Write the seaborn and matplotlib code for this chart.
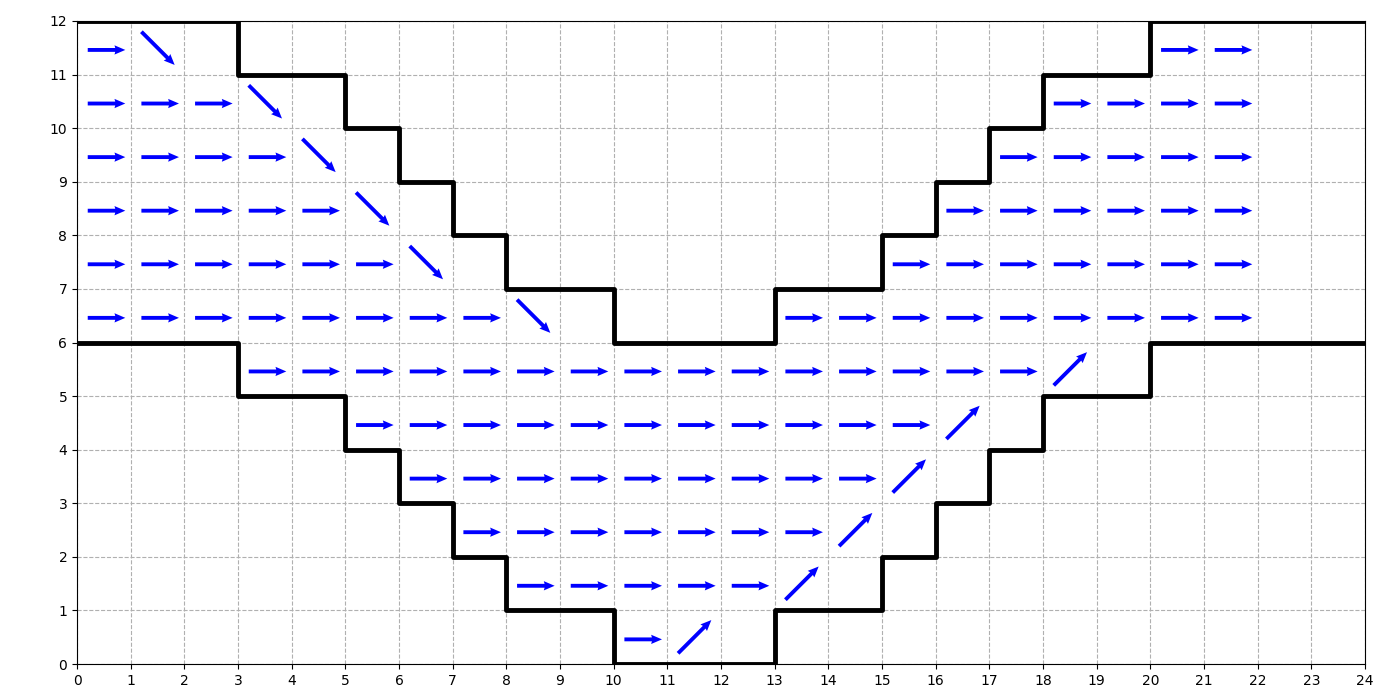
import matplotlib
matplotlib.use("Agg")
import matplotlib.pyplot as plt
import seaborn as sns
import numpy as np

# Step boundaries (x breakpoints and level of each segment)
step_x = [0, 3, 5, 6, 7, 8, 10, 13, 15, 16, 17, 18, 20, 24]
upper_levels = [12, 11, 10, 9, 8, 7, 6, 7, 8, 9, 10, 11, 12]
lower_levels = [6, 5, 4, 3, 2, 1, 0, 1, 2, 3, 4, 5, 6]

# Horizontal arrows: cell row -> list of cell columns
horiz_cells = {
    11: [0, 20, 21],
    10: [0, 1, 2, 18, 19, 20, 21],
    9: [0, 1, 2, 3, 17, 18, 19, 20, 21],
    8: [0, 1, 2, 3, 4, 16, 17, 18, 19, 20, 21],
    7: [0, 1, 2, 3, 4, 5, 15, 16, 17, 18, 19, 20, 21],
    6: [0, 1, 2, 3, 4, 5, 6, 7, 13, 14, 15, 16, 17, 18, 19, 20, 21],
    5: [3, 4, 5, 6, 7, 8, 9, 10, 11, 12, 13, 14, 15, 16, 17],
    4: [5, 6, 7, 8, 9, 10, 11, 12, 13, 14, 15],
    3: [6, 7, 8, 9, 10, 11, 12, 13, 14],
    2: [7, 8, 9, 10, 11, 12, 13],
    1: [8, 9, 10, 11, 12],
    0: [10],
}
# Diagonal arrows (cell column, cell row)
down_cells_x = [1, 3, 4, 5, 6, 8]
down_cells_y = [11, 10, 9, 8, 7, 6]
up_cells_x = [11, 13, 14, 15, 16, 18]
up_cells_y = [0, 1, 2, 3, 4, 5]

fig = plt.figure(figsize=(14, 7), dpi=100)
ax = fig.add_axes([0.055, 0.0514, 0.92, 0.9186])

sx = step_x
sns.lineplot(x=sx, y=upper_levels + [upper_levels[-1]], drawstyle="steps-post",
             color="black", lw=3.5, ax=ax, sort=False, estimator=None, zorder=3)
sns.lineplot(x=sx, y=lower_levels + [lower_levels[-1]], drawstyle="steps-post",
             color="black", lw=3.5, ax=ax, sort=False, estimator=None, zorder=3)

qkw = dict(angles="xy", scale_units="xy", scale=1, color="blue",
           width=0.003, headwidth=2.4, headlength=2.8, headaxislength=2.6, zorder=4)

hx, hy = [], []
for row, cols in horiz_cells.items():
    for c in cols:
        hx.append(c + 0.2)
        hy.append(row + 0.46)
hx = np.array(hx); hy = np.array(hy)
ax.quiver(hx, hy, np.full(len(hx), 0.7), np.zeros(len(hx)), **qkw)

dx = np.array(down_cells_x) + 0.2
dy = np.array(down_cells_y) + 0.8
ax.quiver(dx, dy, np.full(len(dx), 0.62), np.full(len(dx), -0.62), **qkw)

ux = np.array(up_cells_x) + 0.2
uy = np.array(up_cells_y) + 0.2
ax.quiver(ux, uy, np.full(len(ux), 0.62), np.full(len(ux), 0.62), **qkw)

ax.set_xlim(0, 24)
ax.set_ylim(0, 12)
ax.set_xticks(range(0, 25))
ax.set_yticks(range(0, 13))
ax.grid(True, linestyle="--", color="#b0b0b0", linewidth=0.8)
ax.set_axisbelow(True)
ax.set_xlabel("")
ax.set_ylabel("")

fig.savefig("out.png", dpi=100)
